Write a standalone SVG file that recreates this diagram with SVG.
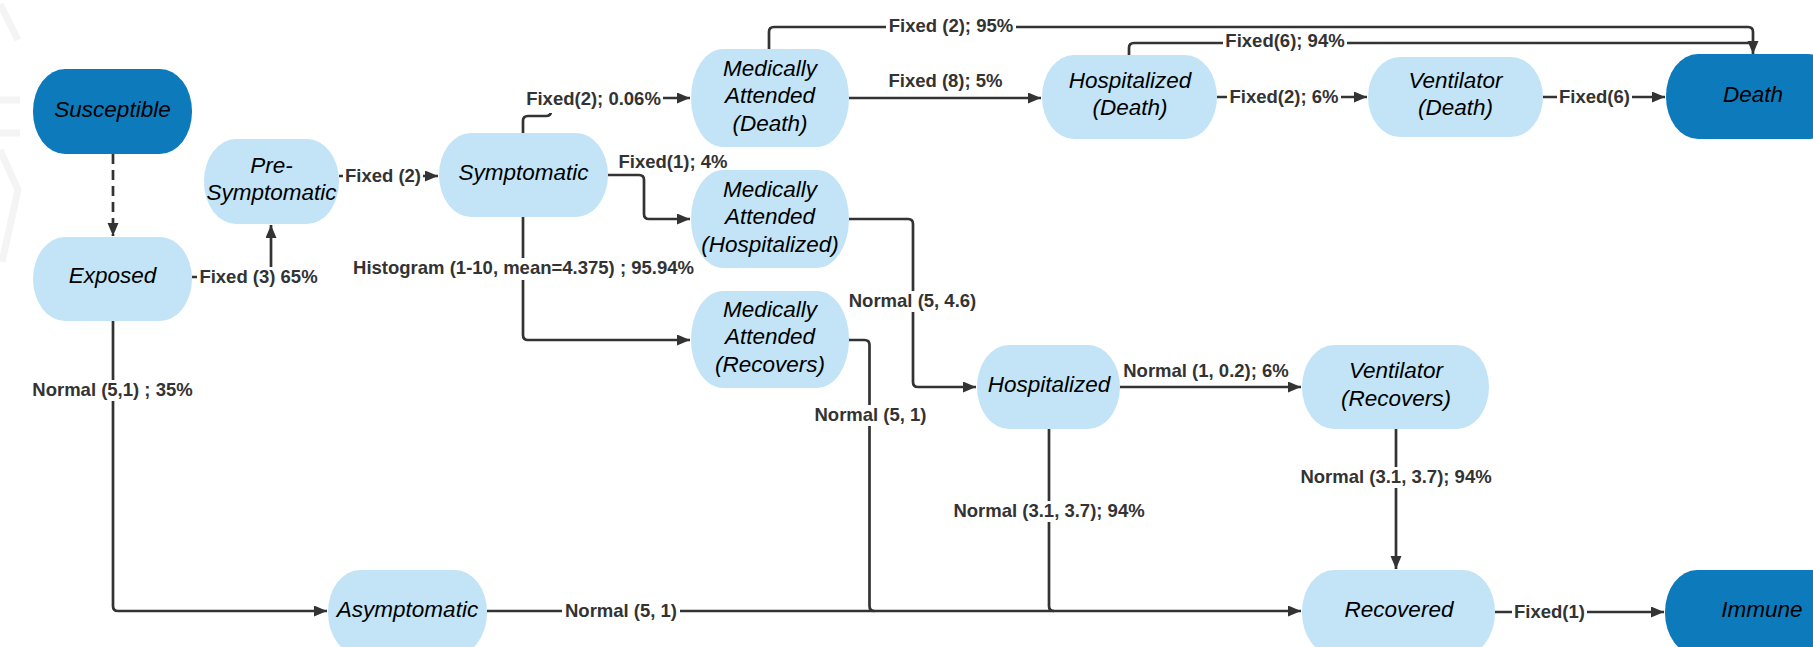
<svg xmlns="http://www.w3.org/2000/svg" width="1813" height="647" viewBox="0 0 1813 647">
<style>
.lt{fill:#c2e4f6}
.dk{fill:#0d7bbb}
.nt{font-family:"Liberation Sans",Arial,sans-serif;font-style:italic;font-size:22.5px;fill:#000;text-anchor:middle}
.c{fill:none;stroke:#333;stroke-width:2.7}
.lb{font-family:"Liberation Sans",Arial,sans-serif;font-weight:bold;font-size:18.5px;fill:#333;text-anchor:middle}
.bg{fill:#fff}
.wm{fill:none;stroke:#f4f4f4;stroke-width:7}
</style>
<defs>
<marker id="ah" markerUnits="userSpaceOnUse" markerWidth="14" markerHeight="12" refX="13" refY="5.5" orient="auto">
<path d="M0,0 L13,5.5 L0,11 z" fill="#333"/>
</marker>
</defs>
<rect width="1813" height="647" fill="#fff"/>
<g id="watermark">
<path class="wm" d="M0,4 L18,40"/>
<path class="wm" d="M0,100 H20 M0,133 H20"/>
<path class="wm" d="M0,150 L18,190 L2,262"/>
</g>
<g id="connectors">
<path class="c" d="M113,154 V236" stroke-dasharray="10,6" marker-end="url(#ah)"/>
<path class="c" d="M192,277 H266 Q271,277 271,272 V225" marker-end="url(#ah)"/>
<path class="c" d="M339,176 H438" marker-end="url(#ah)"/>
<path class="c" d="M523,133 V121 Q523,116 528,116 H546 Q551,116 551,111 V103 Q551,98 556,98 H690" marker-end="url(#ah)"/>
<path class="c" d="M608,175 H639 Q644,175 644,180 V214 Q644,219 649,219 H690" marker-end="url(#ah)"/>
<path class="c" d="M523,217 V335 Q523,340 528,340 H690" marker-end="url(#ah)"/>
<path class="c" d="M769,49 V32 Q769,27 774,27 H1748 Q1753,27 1753,32 V54" marker-end="url(#ah)"/>
<path class="c" d="M1129,55 V48 Q1129,43 1134,43 H1753"/>
<path class="c" d="M849,98 H1041" marker-end="url(#ah)"/>
<path class="c" d="M1217,97 H1367" marker-end="url(#ah)"/>
<path class="c" d="M1543,97 H1665" marker-end="url(#ah)"/>
<path class="c" d="M849,219 H908 Q913,219 913,224 V382 Q913,387 918,387 H976" marker-end="url(#ah)"/>
<path class="c" d="M848,340 H864.5 Q869.5,340 869.5,345 V606 Q869.5,611 874.5,611"/>
<path class="c" d="M1120,387 H1301" marker-end="url(#ah)"/>
<path class="c" d="M1049,429 V606 Q1049,611 1054,611"/>
<path class="c" d="M487,611 H1301" marker-end="url(#ah)"/>
<path class="c" d="M113,321 V606 Q113,611 118,611 H327" marker-end="url(#ah)"/>
<path class="c" d="M1396,429 V569" marker-end="url(#ah)"/>
<path class="c" d="M1495,612 H1664" marker-end="url(#ah)"/>
<g id="labels">
<rect class="bg" x="197" y="267" width="123" height="21"/><text class="lb" x="258.5" y="283">Fixed (3) 65%</text>
<rect class="bg" x="343" y="166" width="80" height="21"/><text class="lb" x="383" y="182">Fixed (2)</text>
<rect class="bg" x="524" y="89" width="139" height="24"/><text class="lb" x="593.5" y="105">Fixed(2); 0.06%</text>
<text class="lb" x="673" y="168">Fixed(1); 4%</text>
<rect class="bg" x="348" y="258" width="351" height="22"/><text class="lb" x="523.5" y="274">Histogram (1-10, mean=4.375) ; 95.94%</text>
<rect class="bg" x="886" y="16" width="130" height="21"/><text class="lb" x="951" y="32">Fixed (2); 95%</text>
<text class="lb" x="945.5" y="87">Fixed (8); 5%</text>
<rect class="bg" x="1223" y="31" width="124" height="21"/><text class="lb" x="1285" y="47">Fixed(6); 94%</text>
<rect class="bg" x="1227" y="87" width="114" height="21"/><text class="lb" x="1284" y="103">Fixed(2); 6%</text>
<rect class="bg" x="1557" y="87" width="75" height="21"/><text class="lb" x="1594.5" y="103">Fixed(6)</text>
<rect class="bg" x="846" y="291" width="133" height="21"/><text class="lb" x="912.5" y="307">Normal (5, 4.6)</text>
<rect class="bg" x="812" y="405" width="117" height="21"/><text class="lb" x="870.5" y="421">Normal (5, 1)</text>
<text class="lb" x="1206" y="377">Normal (1, 0.2); 6%</text>
<rect class="bg" x="950" y="501" width="197" height="21"/><text class="lb" x="1049" y="517">Normal (3.1, 3.7); 94%</text>
<rect class="bg" x="1298" y="467" width="197" height="21"/><text class="lb" x="1396" y="483">Normal (3.1, 3.7); 94%</text>
<rect class="bg" x="29" y="380" width="167" height="21"/><text class="lb" x="112.5" y="396">Normal (5,1) ; 35%</text>
<rect class="bg" x="562" y="601" width="118" height="21"/><text class="lb" x="621" y="617">Normal (5, 1)</text>
<rect class="bg" x="1512" y="602" width="75" height="21"/><text class="lb" x="1549.5" y="618">Fixed(1)</text>
</g>
</g>
<g id="susceptible"><rect class="dk" x="33" y="69" width="159" height="85" rx="32" ry="42"/><text class="nt" x="112.5" y="117">Susceptible</text></g>
<g id="exposed"><rect class="lt" x="33" y="237" width="159" height="84" rx="32" ry="42"/><text class="nt" x="112.5" y="283">Exposed</text></g>
<g id="presymptomatic"><rect class="lt" x="204" y="139" width="135" height="85" rx="32" ry="42"/><text class="nt" x="271.5" y="173">Pre-</text><text class="nt" x="271.5" y="200">Symptomatic</text></g>
<g id="symptomatic"><rect class="lt" x="439" y="133" width="169" height="84" rx="32" ry="42"/><text class="nt" x="523.5" y="180">Symptomatic</text></g>
<g id="ma-death"><rect class="lt" x="691" y="49" width="158" height="98" rx="32" ry="49"/><text class="nt" x="770" y="76">Medically</text><text class="nt" x="770" y="103">Attended</text><text class="nt" x="770" y="131">(Death)</text></g>
<g id="ma-hosp"><rect class="lt" x="691" y="170" width="158" height="98" rx="32" ry="49"/><text class="nt" x="770" y="197">Medically</text><text class="nt" x="770" y="224">Attended</text><text class="nt" x="770" y="252">(Hospitalized)</text></g>
<g id="ma-recovers"><rect class="lt" x="691" y="291" width="158" height="97" rx="32" ry="48"/><text class="nt" x="770" y="317">Medically</text><text class="nt" x="770" y="344">Attended</text><text class="nt" x="770" y="372">(Recovers)</text></g>
<g id="hosp-death"><rect class="lt" x="1042" y="55" width="175" height="84" rx="32" ry="42"/><text class="nt" x="1130" y="88">Hospitalized</text><text class="nt" x="1130" y="115">(Death)</text></g>
<g id="vent-death"><rect class="lt" x="1368" y="57" width="175" height="80" rx="32" ry="40"/><text class="nt" x="1455.5" y="88">Ventilator</text><text class="nt" x="1455.5" y="115">(Death)</text></g>
<g id="death"><rect class="dk" x="1666" y="54" width="174" height="85" rx="32" ry="42"/><text class="nt" x="1753" y="102">Death</text></g>
<g id="hospitalized"><rect class="lt" x="977" y="345" width="143" height="84" rx="32" ry="42"/><text class="nt" x="1049" y="392">Hospitalized</text></g>
<g id="vent-recovers"><rect class="lt" x="1302" y="345" width="187" height="84" rx="32" ry="42"/><text class="nt" x="1396" y="378">Ventilator</text><text class="nt" x="1396" y="406">(Recovers)</text></g>
<g id="asymptomatic"><rect class="lt" x="328" y="570" width="159" height="85" rx="32" ry="42"/><text class="nt" x="407.5" y="617">Asymptomatic</text></g>
<g id="recovered"><rect class="lt" x="1302" y="570" width="193" height="85" rx="32" ry="42"/><text class="nt" x="1399" y="617">Recovered</text></g>
<g id="immune"><rect class="dk" x="1665" y="570" width="194" height="85" rx="32" ry="42"/><text class="nt" x="1762" y="617">Immune</text></g>
</svg>
